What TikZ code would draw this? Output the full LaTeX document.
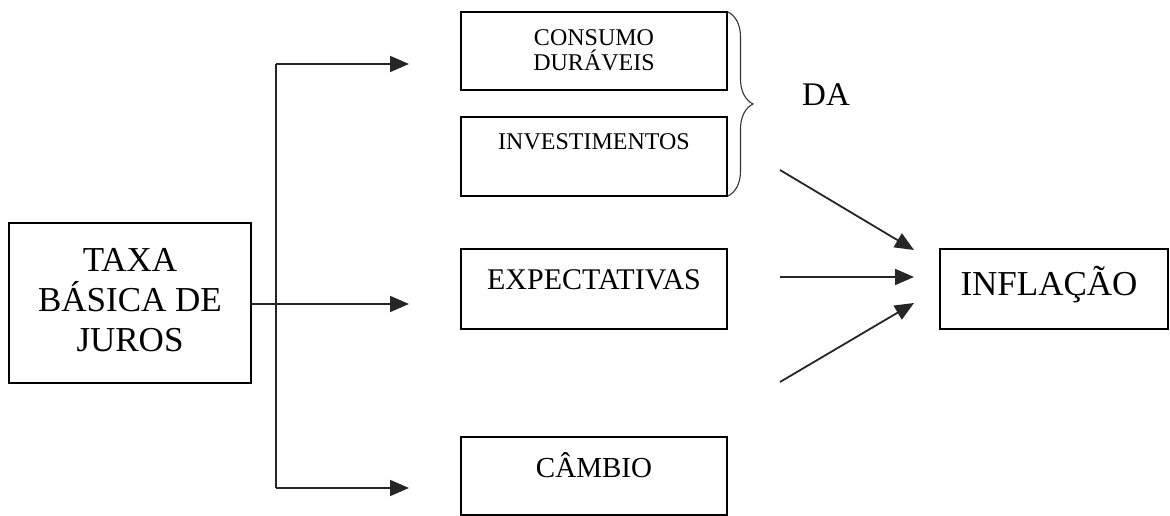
\documentclass[tikz,border=0pt]{standalone}
\usepackage{fontspec}
\setmainfont{Liberation Serif}
\usetikzlibrary{arrows.meta,decorations.pathreplacing}
\begin{document}
\begin{tikzpicture}[x=1pt,y=1pt,
  box/.style={draw=black, line width=2pt, inner sep=0pt, minimum width=266pt, minimum height=80pt},
  lbl/.style={inner sep=0pt, align=center},
  conn/.style={line width=1.8pt, draw=black!85},
  arr/.style={conn, -{Triangle[length=19pt,width=16pt]}}]
\useasboundingbox (0,0) rectangle (1170,516);
% boxes
\node[box, minimum width=242pt, minimum height=160pt] (taxa) at (130,213) {};
\node[lbl, font=\fontsize{35}{40}\selectfont] (taxat) at (130,216) {TAXA\\BÁSICA DE\\JUROS};
\node[box, minimum height=78pt] (cons) at (594,465) {};
\node[lbl, font=\fontsize{24}{25}\selectfont] (const) at (594,466) {CONSUMO\\DURÁVEIS};
\node[box, minimum height=79pt] (inv) at (594,359.5) {};
\node[lbl, font=\fontsize{24}{25}\selectfont] (invt) at (594,374) {INVESTIMENTOS};
\node[box] (exp) at (594,227) {};
\node[lbl, font=\fontsize{30}{34}\selectfont] (expt) at (594,236) {EXPECTATIVAS};
\node[box, minimum height=78pt] (cam) at (594,40) {};
\node[lbl, font=\fontsize{29}{34}\selectfont] (camt) at (594,51) {CÂMBIO};
\node[box, minimum width=228pt] (inf) at (1054,227) {};
\node[lbl, font=\fontsize{35}{40}\selectfont] (inft) at (1049,231) {INFLAÇÃO};
\node[lbl, font=\fontsize{33}{38}\selectfont] (da) at (826,421) {DA};
% branch connectors
\coordinate (vtop) at (276,452);
\coordinate (vbot) at (276,28);
\coordinate (vmid) at (276,212);
\coordinate (t1) at (409,452);
\coordinate (t2) at (409,212);
\coordinate (t3) at (409,28);
\draw[conn] (taxa.east |- vmid) -- (vmid);
\draw[conn] (vtop) -- (vbot);
\draw[arr] (vtop) -- (t1);
\draw[arr] (vmid) -- (t2);
\draw[arr] (vbot) -- (t3);
% brace
\coordinate (bt) at (728,504);
\coordinate (bb) at (728,320);
\draw[line width=1.1pt, black!80, decoration={brace,amplitude=25pt}, decorate] (bt) -- (bb);
% arrows to inflation
\coordinate (s1) at (780,346);
\coordinate (e1) at (914,266);
\coordinate (s2) at (780,239);
\coordinate (e2) at (914,239);
\coordinate (s3) at (780,134);
\coordinate (e3) at (914,213);
\draw[arr] (s1) -- (e1);
\draw[arr] (s2) -- (e2);
\draw[arr] (s3) -- (e3);
\end{tikzpicture}
\end{document}
